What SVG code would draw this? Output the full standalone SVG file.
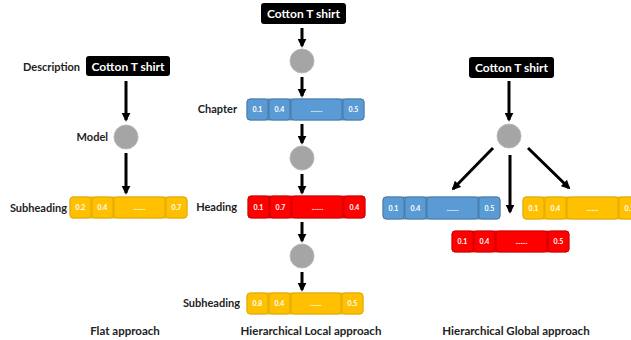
<svg xmlns="http://www.w3.org/2000/svg" width="631" height="340" viewBox="0 0 631 340">
  <defs>
    <marker id="head" viewBox="0 0 10 10" refX="8" refY="5" markerWidth="3" markerHeight="3" orient="auto" markerUnits="strokeWidth">
      <path d="M0,0 L10,5 L0,10 z" fill="#000"/>
    </marker>
  </defs>
  <style>
    text { font-family: Lato, "Liberation Sans", sans-serif; font-weight: bold; }
    .lbl { font-size: 11px; fill: #222; }
    .title { font-size: 11.5px; fill: #222; text-anchor: middle; }
    .src rect { fill: #000; }
    .src text { font-size: 12px; fill: #fff; text-anchor: middle; }
    .model { fill: #a5a5a5; stroke: #b8b8b8; stroke-width: 1; }
    .edge { stroke: #000; stroke-width: 3; fill: none; marker-end: url(#head); }
    .cell text { font-size: 7px; fill: #fff; text-anchor: middle; }
    .y rect { fill: #ffc000; stroke: #d9a400; stroke-width: 0.8; }
    .b rect { fill: #5b9bd5; stroke: #41719c; stroke-width: 0.8; }
    .r rect { fill: #ff0000; stroke: #c00000; stroke-width: 0.8; }
  </style>
  <rect width="631" height="340" fill="#fff"/>

  <!-- connectors -->
  <g id="connectors">
    <line class="edge" x1="126" y1="81" x2="126" y2="120"/>
    <line class="edge" x1="126" y1="153" x2="126" y2="193"/>
    <line class="edge" x1="302" y1="28" x2="302" y2="46"/>
    <line class="edge" x1="302" y1="77" x2="302" y2="96"/>
    <line class="edge" x1="302" y1="124" x2="302" y2="143"/>
    <line class="edge" x1="302" y1="174" x2="302" y2="193"/>
    <line class="edge" x1="302" y1="222" x2="302" y2="241"/>
    <line class="edge" x1="302" y1="272" x2="302" y2="290"/>
    <line class="edge" x1="509" y1="81" x2="509" y2="120"/>
    <line class="edge" x1="493" y1="148" x2="453" y2="189"/>
    <line class="edge" x1="510" y1="155" x2="510" y2="212"/>
    <line class="edge" x1="528" y1="148" x2="569" y2="188"/>
  </g>

  <!-- flat approach -->
  <g id="flat-src" class="src">
    <rect x="86" y="56" width="84" height="20" rx="3"/>
    <text x="128" y="70.5">Cotton T shirt</text>
  </g>
  <text class="lbl" x="80" y="71" text-anchor="end">Description</text>
  <g id="flat-model"><circle class="model" cx="126" cy="137" r="12"/></g>
  <text class="lbl" x="108" y="141" text-anchor="end">Model</text>
  <text class="lbl" x="67" y="212" text-anchor="end">Subheading</text>
  <g id="flat-sub" class="cell y">
    <rect x="70" y="197" width="117" height="21" rx="3"/>
    <rect x="70" y="197" width="21" height="21" rx="3"/>
    <rect x="92" y="197" width="21" height="21" rx="3"/>
    <rect x="114" y="197" width="51" height="21" rx="3"/>
    <rect x="166" y="197" width="21" height="21" rx="3"/>
    <text x="80.5" y="210">0.2</text><text x="102.5" y="210">0.4</text>
    <text x="139.5" y="210">.......</text><text x="176.5" y="210">0.7</text>
  </g>

  <!-- hierarchical local approach -->
  <g id="local-src" class="src">
    <rect x="261" y="3" width="85" height="21" rx="3"/>
    <text x="303.5" y="18">Cotton T shirt</text>
  </g>
  <g id="local-model-1"><circle class="model" cx="302" cy="61" r="12"/></g>
  <text class="lbl" x="237" y="113" text-anchor="end">Chapter</text>
  <g id="local-chapter" class="cell b">
    <rect x="247" y="99" width="117" height="21" rx="3"/>
    <rect x="247" y="99" width="21" height="21" rx="3"/>
    <rect x="269" y="99" width="21" height="21" rx="3"/>
    <rect x="291" y="99" width="51" height="21" rx="3"/>
    <rect x="343" y="99" width="21" height="21" rx="3"/>
    <text x="257.5" y="112">0.1</text><text x="279.5" y="112">0.4</text>
    <text x="316.5" y="112">.......</text><text x="353.5" y="112">0.5</text>
  </g>
  <g id="local-model-2"><circle class="model" cx="302" cy="158" r="12"/></g>
  <text class="lbl" x="237" y="211" text-anchor="end">Heading</text>
  <g id="local-heading" class="cell r">
    <rect x="248" y="196" width="117" height="22" rx="3"/>
    <rect x="248" y="196" width="21" height="22" rx="3"/>
    <rect x="270" y="196" width="21" height="22" rx="3"/>
    <rect x="292" y="196" width="51" height="22" rx="3"/>
    <rect x="344" y="196" width="21" height="22" rx="3"/>
    <text x="258.5" y="209.5">0.1</text><text x="280.5" y="209.5">0.7</text>
    <text x="317.5" y="209.5">.......</text><text x="354.5" y="209.5">0.4</text>
  </g>
  <g id="local-model-3"><circle class="model" cx="302" cy="256" r="12"/></g>
  <text class="lbl" x="240" y="307" text-anchor="end">Subheading</text>
  <g id="local-sub" class="cell y">
    <rect x="247" y="293" width="116" height="21" rx="3"/>
    <rect x="247" y="293" width="21" height="21" rx="3"/>
    <rect x="269" y="293" width="21" height="21" rx="3"/>
    <rect x="291" y="293" width="50" height="21" rx="3"/>
    <rect x="342" y="293" width="21" height="21" rx="3"/>
    <text x="257.5" y="306">0.8</text><text x="279.5" y="306">0.4</text>
    <text x="316" y="306">.......</text><text x="352.5" y="306">0.5</text>
  </g>

  <!-- hierarchical global approach -->
  <g id="global-src" class="src">
    <rect x="469" y="57" width="85" height="21" rx="3"/>
    <text x="511.5" y="72">Cotton T shirt</text>
  </g>
  <g id="global-model"><circle class="model" cx="509" cy="136" r="12"/></g>
  <g id="global-chapter" class="cell b">
    <rect x="383" y="197" width="117" height="22" rx="3"/>
    <rect x="383" y="197" width="21" height="22" rx="3"/>
    <rect x="405" y="197" width="21" height="22" rx="3"/>
    <rect x="427" y="197" width="51" height="22" rx="3"/>
    <rect x="479" y="197" width="21" height="22" rx="3"/>
    <text x="393.5" y="210.5">0.1</text><text x="415.5" y="210.5">0.4</text>
    <text x="452.5" y="210.5">.......</text><text x="489.5" y="210.5">0.5</text>
  </g>
  <!-- this bar runs past the right edge of the canvas -->
  <g id="global-sub" class="cell y">
    <rect x="523" y="197" width="117" height="22" rx="3"/>
    <rect x="523" y="197" width="21" height="22" rx="3"/>
    <rect x="545" y="197" width="21" height="22" rx="3"/>
    <rect x="567" y="197" width="51" height="22" rx="3"/>
    <rect x="619" y="197" width="21" height="22" rx="3"/>
    <text x="533.5" y="210.5">0.1</text><text x="555.5" y="210.5">0.4</text>
    <text x="592.5" y="210.5">.......</text><text x="629.5" y="210.5">0.5</text>
  </g>
  <g id="global-heading" class="cell r">
    <rect x="452" y="231" width="117" height="21" rx="3"/>
    <rect x="452" y="231" width="21" height="21" rx="3"/>
    <rect x="474" y="231" width="21" height="21" rx="3"/>
    <rect x="496" y="231" width="51" height="21" rx="3"/>
    <rect x="548" y="231" width="21" height="21" rx="3"/>
    <text x="462.5" y="244">0.1</text><text x="484.5" y="244">0.4</text>
    <text x="521.5" y="244">.......</text><text x="558.5" y="244">0.5</text>
  </g>

  <!-- section titles -->
  <text class="title" x="125" y="335">Flat approach</text>
  <text class="title" x="311" y="335">Hierarchical Local approach</text>
  <text class="title" x="516" y="335">Hierarchical Global approach</text>
</svg>
